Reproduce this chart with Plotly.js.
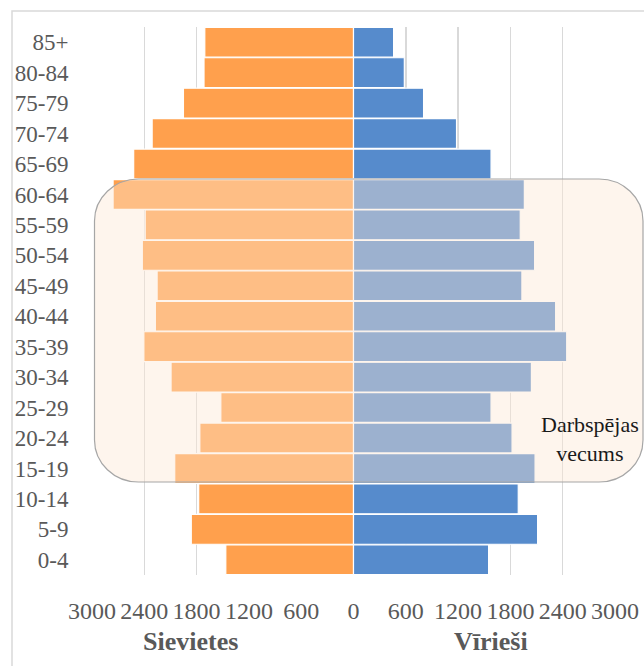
<!DOCTYPE html>
<html>
<head>
<meta charset="utf-8">
<script src="https://cdn.plot.ly/plotly-3.0.1.min.js"></script>
<style>
html,body{margin:0;padding:0;background:#fff;}
#chart{width:644px;height:666px;}
</style>
</head>
<body>
<div id="chart"></div>
<script>
// Age groups (bottom to top)
var ageGroups = ['0-4','5-9','10-14','15-19','20-24','25-29','30-34','35-39','40-44','45-49','50-54','55-59','60-64','65-69','70-74','75-79','80-84','85+'];
// Women (Sievietes)
var women = [1465, 1861, 1776, 2051, 1763, 1522, 2093, 2405, 2273, 2253, 2423, 2390, 2758, 2522, 2310, 1951, 1715, 1706];
// Men (Vīrieši)
var men = [1550, 2112, 1890, 2083, 1819, 1578, 2041, 2446, 2319, 1932, 2078, 1913, 1960, 1578, 1182, 804, 583, 460];
// Axis ticks
var tickValues = [-3000, -2400, -1800, -1200, -600, 0, 600, 1200, 1800, 2400, 3000];
var tickLabels = ['3000', '2400', '1800', '1200', '600', '0', '600', '1200', '1800', '2400', '3000'];

var serif = 'Liberation Serif';

var traces = [
  {
    type: 'bar', orientation: 'h', name: 'Sievietes',
    y: ageGroups, x: women.map(function (v) { return -v; }),
    marker: {color: 'rgb(255,160,77)', line: {color: '#ffffff', width: 1.2}},
    hoverinfo: 'skip'
  },
  {
    type: 'bar', orientation: 'h', name: 'Vīrieši',
    y: ageGroups, x: men,
    marker: {color: 'rgb(86,139,204)', line: {color: '#ffffff', width: 1.2}},
    hoverinfo: 'skip'
  }
];

// rounded rectangle (paper coords)
function roundedRect(x0, y0, x1, y1, rx, ry) {
  var k = 0.5523;
  return 'M ' + (x0 + rx) + ' ' + y1 +
    ' L ' + (x1 - rx) + ' ' + y1 +
    ' C ' + (x1 - rx + rx * k) + ' ' + y1 + ' ' + x1 + ' ' + (y1 - ry + ry * k) + ' ' + x1 + ' ' + (y1 - ry) +
    ' L ' + x1 + ' ' + (y0 + ry) +
    ' C ' + x1 + ' ' + (y0 + ry - ry * k) + ' ' + (x1 - rx + rx * k) + ' ' + y0 + ' ' + (x1 - rx) + ' ' + y0 +
    ' L ' + (x0 + rx) + ' ' + y0 +
    ' C ' + (x0 + rx - rx * k) + ' ' + y0 + ' ' + x0 + ' ' + (y0 + ry - ry * k) + ' ' + x0 + ' ' + (y0 + ry) +
    ' L ' + x0 + ' ' + (y1 - ry) +
    ' C ' + x0 + ' ' + (y1 - ry + ry * k) + ' ' + (x0 + rx - rx * k) + ' ' + y1 + ' ' + (x0 + rx) + ' ' + y1 + ' Z';
}

var W = 523, H = 548;
function px(p) { return (p - 92) / W; }
function py(p) { return (575 - p) / H; }

var layout = {
  width: 644, height: 666,
  margin: {l: 92, r: 29, t: 27, b: 91},
  paper_bgcolor: '#ffffff', plot_bgcolor: '#ffffff',
  font: {family: serif},
  barmode: 'overlay', bargap: 0.02,
  showlegend: false,
  xaxis: {
    range: [-3000, 3000], tickvals: tickValues, ticktext: tickLabels,
    showgrid: true, gridcolor: '#d9d9d9', gridwidth: 1.5,
    zeroline: true, zerolinecolor: '#d9d9d9', zerolinewidth: 2,
    showline: false, ticks: 'outside', ticklen: 14, tickcolor: 'rgba(0,0,0,0)',
    tickfont: {family: serif, size: 24, color: '#595959'},
    fixedrange: true
  },
  yaxis: {
    type: 'category', categoryorder: 'array', categoryarray: ageGroups,
    range: [-0.5, 17.5],
    showgrid: false, zeroline: false, showline: false,
    ticks: 'outside', ticklen: 18, tickcolor: 'rgba(0,0,0,0)',
    tickfont: {family: serif, size: 23, color: '#595959'},
    fixedrange: true
  },
  shapes: [
    {
      type: 'rect', xref: 'paper', yref: 'paper',
      x0: px(12), x1: px(700), y0: py(700), y1: py(11),
      line: {color: '#d9d9d9', width: 1.5}, fillcolor: 'rgba(0,0,0,0)', layer: 'below'
    },
    {
      type: 'path', xref: 'paper', yref: 'paper', layer: 'above',
      path: roundedRect(px(94.5), py(482), px(643), py(179), 44 / W, 42 / H),
      fillcolor: 'rgba(253,230,212,0.42)',
      line: {color: '#a6a6a6', width: 1.2}
    }
  ],
  annotations: [
    {
      xref: 'paper', yref: 'paper', x: px(190), y: py(641),
      text: '<b>Sievietes</b>', showarrow: false, xanchor: 'center', yanchor: 'middle',
      font: {family: serif, size: 26, color: '#595959'}
    },
    {
      xref: 'paper', yref: 'paper', x: px(491), y: py(641),
      text: '<b>Vīrieši</b>', showarrow: false, xanchor: 'center', yanchor: 'middle',
      font: {family: serif, size: 26, color: '#595959'}
    },
    {
      xref: 'paper', yref: 'paper', x: px(590), y: py(439),
      text: 'Darbspējas<br>vecums', showarrow: false, xanchor: 'center', yanchor: 'middle',
      align: 'center',
      font: {family: serif, size: 22, color: '#1a1a1a'}
    }
  ]
};

Plotly.newPlot('chart', traces, layout, {displayModeBar: false, staticPlot: true});
</script>
</body>
</html>
